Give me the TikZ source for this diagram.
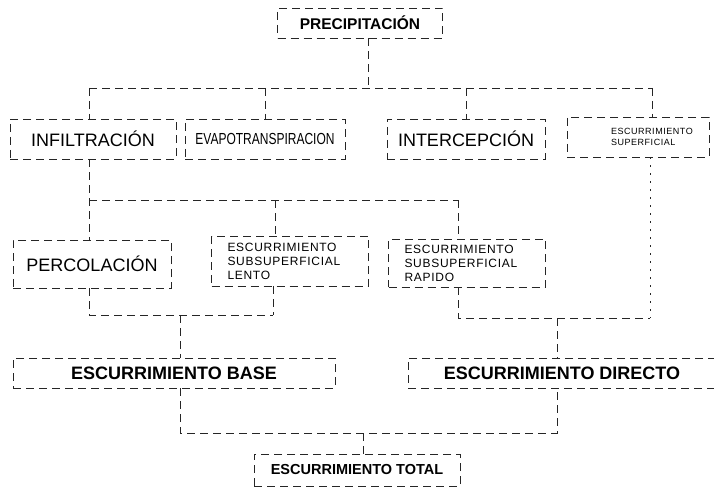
\documentclass[tikz,border=0pt]{standalone}
\usepackage{fontspec}
\setmainfont{Liberation Sans}
\begin{document}
\begin{tikzpicture}[x=1pt,y=-1pt,
  box/.style={draw=black!85, line width=0.7pt, dash pattern=on 8pt off 5pt, inner sep=0pt, align=center},
  conn/.style={draw=black!85, line width=0.7pt, dash pattern=on 8pt off 5pt},
  dotconn/.style={draw=black!85, line width=0.7pt, dash pattern=on 2pt off 6pt},
  bigb/.style={font=\fontsize{18}{18}\selectfont\bfseries},
  mid/.style={font=\fontsize{18}{18}\selectfont},
  small/.style={font=\fontsize{12}{14}\selectfont\addfontfeature{LetterSpace=6}, align=left, text width=125pt, inner xsep=16pt}
]
\useasboundingbox (0,0) rectangle (714,497);
\fill[white] (0,0) rectangle (714,497);

% row 1
\node[box, font=\fontsize{15.5}{15.5}\selectfont\bfseries, minimum width=165pt, minimum height=30pt] (prec) at (360,23) {PRECIPITACIÓN};

% row 2
\node[box, mid, minimum width=166pt, minimum height=40pt] (infil) at (93,139) {INFILTRACIÓN};
\node[box, minimum width=160pt, minimum height=40pt] (evap) at (265,139) {\scalebox{0.75}[1]{\fontsize{16}{16}\selectfont EVAPOTRANSPIRACION}};
\node[box, mid, minimum width=158pt, minimum height=40pt] (inter) at (466,139) {INTERCEPCIÓN};
\node[box, font=\fontsize{9}{11}\selectfont\addfontfeature{LetterSpace=6}, align=left, text width=120pt, inner xsep=11pt, minimum height=40pt] (super) at (638,137) {\hspace*{33pt}ESCURRIMIENTO\\\hspace*{33pt}SUPERFICIAL};

% row 3
\node[box, mid, minimum width=158pt, minimum height=48pt] (perc) at (92,264) {PERCOLACIÓN};
\node[box, small, minimum height=50pt] (lento) at (290,261) {ESCURRIMIENTO\\SUBSUPERFICIAL\\LENTO};
\node[box, small, minimum height=48pt] (rapido) at (467,263) {ESCURRIMIENTO\\SUBSUPERFICIAL\\RAPIDO};

% row 4
\node[box, bigb, minimum width=322pt, minimum height=30pt] (base) at (174,373) {ESCURRIMIENTO BASE};
\node[box, bigb, minimum width=308pt, minimum height=30pt] (directo) at (562,373) {ESCURRIMIENTO DIRECTO};

% row 5
\node[box, font=\fontsize{14.5}{14.5}\selectfont\bfseries, minimum width=206pt, minimum height=32pt] (total) at (357,470) {ESCURRIMIENTO TOTAL};

% connectors: precipitation split
\coordinate (p0) at (368,88);
\coordinate (hl) at (89,88);
\coordinate (hr) at (652,88);
\draw[conn] (p0 |- prec.south) -- (p0);
\draw[conn] (hl) -- (hr);
\draw[conn] (hl) -- (hl |- infil.north);
\draw[conn] (evap.north |- hl) -- (evap.north);
\draw[conn] (inter.north |- hl) -- (inter.north);
\draw[conn] (hr) -- (hr |- super.north);

% infiltration split
\coordinate (j2) at (89,200);
\coordinate (s1) at (275,200);
\coordinate (s2) at (458,200);
\draw[conn] (j2 |- infil.south) -- (j2 |- perc.north);
\draw[conn] (j2) -- (s2);
\draw[conn] (s1) -- (s1 |- lento.north);
\draw[conn] (s2) -- (s2 |- rapido.north);

% to base
\coordinate (j3l) at (89,315);
\coordinate (j3r) at (273,315);
\coordinate (m3) at (180,315);
\draw[conn] (j3l |- perc.south) -- (j3l) -- (j3r);
\draw[conn] (j3r |- lento.south) -- (j3r);
\draw[conn] (m3) -- (m3 |- base.north);

% to directo
\coordinate (k3l) at (458,318);
\coordinate (k3r) at (650,318);
\coordinate (m4) at (557,318);
\draw[conn] (k3l |- rapido.south) -- (k3l) -- (k3r);
\draw[dotconn] (k3r |- super.south) -- (k3r);
\draw[conn] (m4) -- (m4 |- directo.north);

% to total
\coordinate (q1) at (180,433);
\coordinate (q2) at (557,433);
\coordinate (q0) at (363,433);
\draw[conn] (q1 |- base.south) -- (q1) -- (q2) -- (q2 |- directo.south);
\draw[conn] (q0) -- (q0 |- total.north);
\end{tikzpicture}
\end{document}
